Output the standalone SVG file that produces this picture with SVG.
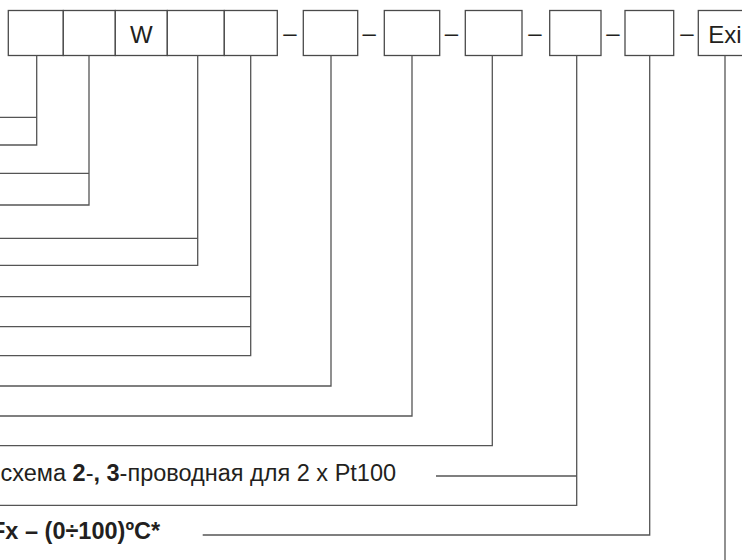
<svg xmlns="http://www.w3.org/2000/svg" width="742" height="560" viewBox="0 0 742 560">
<style>
.box{fill:#fff;stroke:#4a4a4a;stroke-width:1.3}
.ln{fill:none;stroke:#555;stroke-width:1.3}
.t{font-family:"Liberation Sans",Arial,sans-serif;font-size:23.5px;fill:#231f20}
.b{font-weight:bold}
.d{font-family:"Liberation Sans",Arial,sans-serif;font-size:24px;fill:#231f20;text-anchor:middle}
</style>
<rect width="742" height="560" fill="#fff"/>
<g id="code-block">
<g id="box1"><rect class="box" x="8.3" y="10.5" width="55" height="45"/></g>
<g id="box2"><rect class="box" x="63.3" y="10.5" width="52" height="45"/></g>
<g id="box3"><rect class="box" x="115.3" y="10.5" width="52" height="45"/><text class="t" x="141.3" y="42.5" text-anchor="middle" style="font-size:24px">W</text></g>
<g id="box4"><rect class="box" x="167.3" y="10.5" width="57" height="45"/></g>
<g id="box5"><rect class="box" x="224.3" y="10.5" width="53" height="45"/></g>
</g>
<g id="box6"><rect class="box" x="303.3" y="10.5" width="54.4" height="45"/></g>
<g id="box7"><rect class="box" x="384.3" y="10.5" width="55.4" height="45"/></g>
<g id="box8"><rect class="box" x="465.3" y="10.5" width="56.7" height="45"/></g>
<g id="box9"><rect class="box" x="549.7" y="10.5" width="51.3" height="45"/></g>
<g id="box10"><rect class="box" x="625" y="10.5" width="48.7" height="45"/></g>
<g id="box11"><rect class="box" x="698.3" y="10.5" width="70" height="45"/><text class="t" x="708.3" y="42.5" style="font-size:24px">Exi</text></g>
<g id="separators">
<text class="d" x="290" y="40.5">–</text>
<text class="d" x="369.2" y="40.5">–</text>
<text class="d" x="451.5" y="40.5">–</text>
<text class="d" x="535" y="40.5">–</text>
<text class="d" x="613" y="40.5">–</text>
<text class="d" x="687" y="40.5">–</text>
</g>
<g id="connectors">
<path class="ln" d="M36.7 55.5V145H0M0 117.3H36.7"/>
<path class="ln" d="M89 55.5V205H0M0 173.3H89"/>
<path class="ln" d="M197.7 55.5V265.3H0M0 238.3H197.7"/>
<path class="ln" d="M250.7 55.5V355.7H0M0 296.7H250.7M0 326.7H250.7"/>
<path class="ln" d="M331 55.5V386H0"/>
<path class="ln" d="M412 55.5V416H0"/>
<path class="ln" d="M492.3 55.5V445.7H0"/>
<path class="ln" d="M576.7 55.5V505.3H0M436 476H576.7"/>
<path class="ln" d="M649.7 55.5V535H202.7"/>
<path class="ln" d="M725 55.5V570"/>
</g>
<g id="labels">
<text class="t" x="0.5" y="481">схема <tspan class="b">2</tspan>-<tspan class="b">, 3</tspan>-проводная для 2 x Pt100</text>
<text class="t b" x="-9" y="539.3">Fx – (0÷100)ºC*</text>
</g>
</svg>
